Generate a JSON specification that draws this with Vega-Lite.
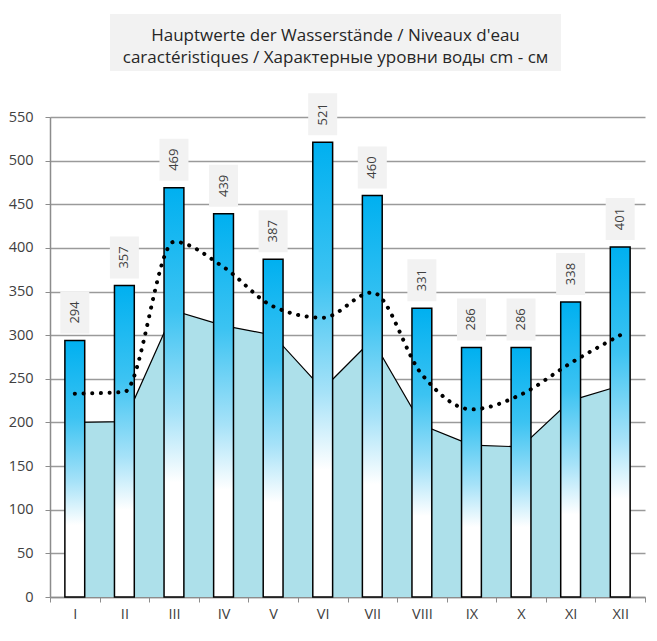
{
  "$schema": "https://vega.github.io/schema/vega-lite/v6.json",
  "background": "white",
  "padding": {"left": 8, "top": 14, "right": 5, "bottom": 5},
  "bounds": "flush",
  "spacing": 103,
  "config": {
    "font": "Open Sans",
    "view": {"stroke": null},
    "axis": {"labelFont": "Open Sans", "labelFontSize": 14.5, "labelColor": "#404040"}
  },
  "datasets": {
    "pegel": [
      {"Monat": "I", "hoch": 294, "mittel": 233, "niedrig": 200},
      {"Monat": "II", "hoch": 357, "mittel": 235, "niedrig": 201},
      {"Monat": "III", "hoch": 469, "mittel": 407, "niedrig": 328},
      {"Monat": "IV", "hoch": 439, "mittel": 378, "niedrig": 311},
      {"Monat": "V", "hoch": 387, "mittel": 333, "niedrig": 300},
      {"Monat": "VI", "hoch": 521, "mittel": 320, "niedrig": 238},
      {"Monat": "VII", "hoch": 460, "mittel": 349, "niedrig": 295},
      {"Monat": "VIII", "hoch": 331, "mittel": 255, "niedrig": 197},
      {"Monat": "IX", "hoch": 286, "mittel": 215, "niedrig": 174},
      {"Monat": "X", "hoch": 286, "mittel": 232, "niedrig": 172},
      {"Monat": "XI", "hoch": 338, "mittel": 268, "niedrig": 225},
      {"Monat": "XII", "hoch": 401, "mittel": 300, "niedrig": 242}
    ]
  },
  "vconcat": [
    {
      "spacing": 0,
      "bounds": "flush",
      "hconcat": [
        {
          "width": 60,
          "height": 57,
          "data": {"values": []},
          "mark": "point",
          "encoding": {}
        },
        {
          "width": 451,
          "height": 57,
          "view": {"fill": "#f2f2f2", "stroke": null},
          "data": {"values": [{}]},
          "mark": {
            "type": "text",
            "text": ["Hauptwerte der Wasserstände / Niveaux d'eau", "caractéristiques / Характерные уровни воды cm - см"],
            "fontSize": 17,
            "lineHeight": 22,
            "dy": -7,
            "color": "#262626",
            "align": "center",
            "baseline": "middle"
          },
          "encoding": {}
        }
      ]
    },
    {
      "width": 595,
      "height": 480,
      "data": {"name": "pegel"},
      "encoding": {
        "x": {
          "field": "Monat",
          "type": "ordinal",
          "sort": null,
          "scale": {"paddingInner": 0, "paddingOuter": 0},
          "axis": {
            "title": null,
            "labelAngle": 0,
            "tickBand": "extent",
            "tickSize": 5,
            "tickColor": "#8c8c8c",
            "domainColor": "#8c8c8c",
            "domainWidth": 1.5,
            "labelPadding": 5,
            "grid": false
          }
        }
      },
      "layer": [
        {
          "mark": {"type": "area", "color": "#ade0ea", "opacity": 1},
          "encoding": {
            "y": {
              "field": "niedrig",
              "type": "quantitative",
              "scale": {"domain": [0, 550], "nice": false},
              "axis": {
                "title": null,
                "values": [0, 50, 100, 150, 200, 250, 300, 350, 400, 450, 500, 550],
                "grid": true,
                "gridColor": "#9a9a9a",
                "gridWidth": 1.3,
                "tickSize": 5,
                "tickColor": "#8c8c8c",
                "domainColor": "#8c8c8c",
                "domainWidth": 1.5,
                "labelPadding": 12
              }
            }
          }
        },
        {
          "mark": {"type": "line", "color": "black", "strokeWidth": 1.2},
          "encoding": {"y": {"field": "niedrig", "type": "quantitative"}}
        },
        {
          "mark": {
            "type": "bar",
            "width": {"band": 0.4},
            "stroke": "black",
            "strokeWidth": 1.5,
            "fill": {
              "gradient": "linear",
              "x1": 0, "y1": 0, "x2": 0, "y2": 1,
              "stops": [
                {"offset": 0, "color": "#00b0f0"},
                {"offset": 0.3, "color": "#3cc3f2"},
                {"offset": 0.55, "color": "#a6e2f8"},
                {"offset": 0.72, "color": "#ffffff"},
                {"offset": 1, "color": "#ffffff"}
              ]
            }
          },
          "encoding": {"y": {"field": "hoch", "type": "quantitative"}}
        },
        {
          "mark": {
            "type": "line",
            "color": "black",
            "strokeWidth": 4,
            "strokeCap": "round",
            "strokeDash": [0.1, 8.6],
            "interpolate": "monotone"
          },
          "encoding": {"y": {"field": "mittel", "type": "quantitative"}}
        },
        {
          "mark": {"type": "tick", "color": "#f2f2f2", "opacity": 1, "size": 29, "thickness": 42, "yOffset": -28},
          "encoding": {"y": {"field": "hoch", "type": "quantitative"}}
        },
        {
          "mark": {"type": "text", "angle": 270, "fontSize": 13, "color": "#404040", "yOffset": -28, "align": "center", "baseline": "middle"},
          "encoding": {
            "y": {"field": "hoch", "type": "quantitative"},
            "text": {"field": "hoch", "type": "quantitative"}
          }
        }
      ]
    }
  ]
}
